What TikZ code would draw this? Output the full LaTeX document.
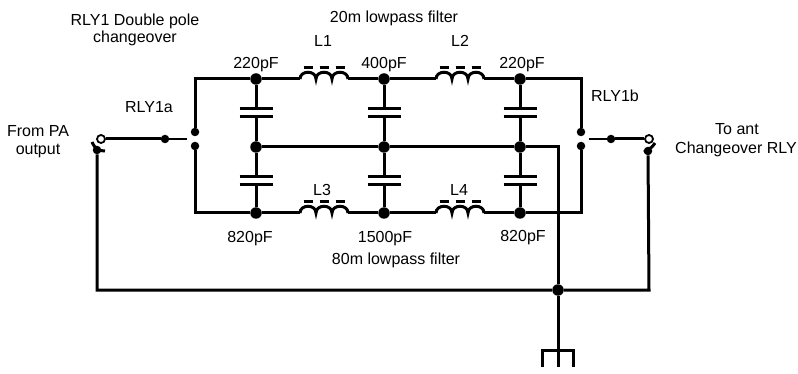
\documentclass[tikz,border=0pt]{standalone}
\usepackage{fontspec}
\setmainfont{Liberation Sans}
\begin{document}
\begin{tikzpicture}[x=1pt,y=-1pt,
  wire/.style={line width=3pt},
  thinwire/.style={line width=1.2pt},
  dot/.style={circle,fill,inner sep=0pt,minimum size=11.5pt},
  sdot/.style={circle,fill,inner sep=0pt,minimum size=8.5pt},
  odot/.style={circle,draw,fill=white,line width=1.8pt,inner sep=0pt,minimum size=8pt},
  lbl/.style={font=\fontsize{16}{18}\selectfont,inner sep=0pt,anchor=base},
  cap/.pic={
    \draw[wire] (-16.5,-4) -- (16.5,-4);
    \draw[wire] (-16.5,4) -- (16.5,4);
    \coordinate (-t) at (0,-4);
    \coordinate (-b) at (0,4);
  },
  coil/.pic={
    \draw[wire] (0,0) .. controls (0,-9) and (16,-9) .. (16,0)
                      .. controls (16,-9) and (32,-9) .. (32,0)
                      .. controls (32,-9) and (48,-9) .. (48,0);
    \draw[wire] (3.5,-11.5) -- (12.5,-11.5) (19.5,-11.5) -- (28.5,-11.5) (35.5,-11.5) -- (44.5,-11.5);
    \coordinate (-l) at (0,0);
    \coordinate (-r) at (48,0);
  }
]
\useasboundingbox (0,0) rectangle (798,374);

% corner coordinates
\coordinate (tl) at (195,79);
\coordinate (bl) at (195,213);
\coordinate (tr) at (581,79);
\coordinate (br) at (581,213);
\coordinate (mr) at (558,147);

% node dots
\node[dot] (a1t) at (256,79) {};
\node[dot] (a1m) at (256,147) {};
\node[dot] (a1b) at (256,213) {};
\node[dot] (a2t) at (384,79) {};
\node[dot] (a2m) at (384,147) {};
\node[dot] (a2b) at (384,213) {};
\node[dot] (a3t) at (520,79) {};
\node[dot] (a3m) at (520,147) {};
\node[dot] (a3b) at (520,213) {};
\node[dot] (gj) at (558,290) {};

% capacitors
\pic (c1u) at (256,113) {cap};
\pic (c1d) at (256,180.5) {cap};
\pic (c2u) at (384,113) {cap};
\pic (c2d) at (384,180.5) {cap};
\pic (c3u) at (520,113) {cap};
\pic (c3d) at (520,180.5) {cap};

% coils
\pic (l1) at (300,79) {coil};
\pic (l2) at (436,79) {coil};
\pic (l3) at (300,213) {coil};
\pic (l4) at (436,213) {coil};

% relay contacts
\node[sdot] (k1u) at (195,132) {};
\node[sdot] (k1d) at (195,146) {};
\node[sdot] (k1m) at (165,139) {};
\node[odot] (k1o) at (101,139) {};
\node[sdot] (k1c) at (97,150) {};
\coordinate (k1e) at (187,139);
\node[sdot] (k2u) at (581,132) {};
\node[sdot] (k2d) at (581,146) {};
\node[sdot] (k2m) at (611,139) {};
\node[odot] (k2o) at (649,139) {};
\node[sdot] (k2c) at (648,151) {};
\coordinate (k2e) at (589,139);

% bottom loop coordinates
\coordinate (bwl) at (97,290);
\coordinate (bwr) at (649,290);

% ground
\coordinate (g0) at (558,350);
\coordinate (g1) at (542,350);
\coordinate (g2) at (573,350);
\coordinate (g1e) at (542,367);
\coordinate (g0e) at (558,367);
\coordinate (g2e) at (573,367);

% top rail
\draw[wire] (k1u) -- (tl) -- (a1t) -- (l1-l);
\draw[wire] (l1-r) -- (a2t) -- (l2-l);
\draw[wire] (l2-r) -- (a3t) -- (tr) -- (k2u);
% bottom rail
\draw[wire] (k1d) -- (bl) -- (a1b) -- (l3-l);
\draw[wire] (l3-r) -- (a2b) -- (l4-l);
\draw[wire] (l4-r) -- (a3b) -- (br) -- (k2d);
% capacitor leads
\draw[wire] (a1t) -- (c1u-t) (c1u-b) -- (a1m) -- (c1d-t) (c1d-b) -- (a1b);
\draw[wire] (a2t) -- (c2u-t) (c2u-b) -- (a2m) -- (c2d-t) (c2d-b) -- (a2b);
\draw[wire] (a3t) -- (c3u-t) (c3u-b) -- (a3m) -- (c3d-t) (c3d-b) -- (a3b);
% middle rail
\draw[wire] (a1m) -- (a2m) -- (a3m) -- (mr) -- (gj);
% switches
\draw[wire] (k1o) -- (k1m);
\draw[thinwire] (k1m) -- (k1e);
\draw[wire] (k2m) -- (k2o);
\draw[thinwire] (k2e) -- (k2m);
\draw[wire] (92,142) .. controls (95,149) and (99,151) .. (105,151);
\draw[wire] (644,152) .. controls (648,150) and (652,148) .. (655,143);
% bottom loop
\draw[wire] (k1c) -- (bwl) -- (gj) -- (bwr) -- (k2c);
% ground
\draw[wire] (gj) -- (g0);
\draw[wire] (g1e) -- (g1) -- (g2) -- (g2e);
\draw[wire] (g0) -- (g0e);

% labels
\node[lbl] (t1) at (135,26) {RLY1 Double pole};
\node[lbl] (t2) at (135,43) {changeover};
\node[lbl] (t3) at (394,23) {20m lowpass filter};
\node[lbl] (t4) at (323,47) {L1};
\node[lbl] (t5) at (460,47) {L2};
\node[lbl] (t6) at (256,69) {220pF};
\node[lbl] (t7) at (384,69) {400pF};
\node[lbl] (t8) at (522,69) {220pF};
\node[lbl] (t9) at (149,113) {RLY1a};
\node[lbl] (t10) at (615,102) {RLY1b};
\node[lbl] (t11) at (38,137) {From PA};
\node[lbl] (t12) at (38,155) {output};
\node[lbl] (t13) at (737,135) {To ant};
\node[lbl] (t14) at (736,154) {Changeover RLY};
\node[lbl] (t15) at (322,196) {L3};
\node[lbl] (t16) at (459,196) {L4};
\node[lbl] (t17) at (250,243) {820pF};
\node[lbl] (t18) at (385,243) {1500pF};
\node[lbl] (t19) at (523,242) {820pF};
\node[lbl] (t20) at (396,265) {80m lowpass filter};
\end{tikzpicture}
\end{document}
